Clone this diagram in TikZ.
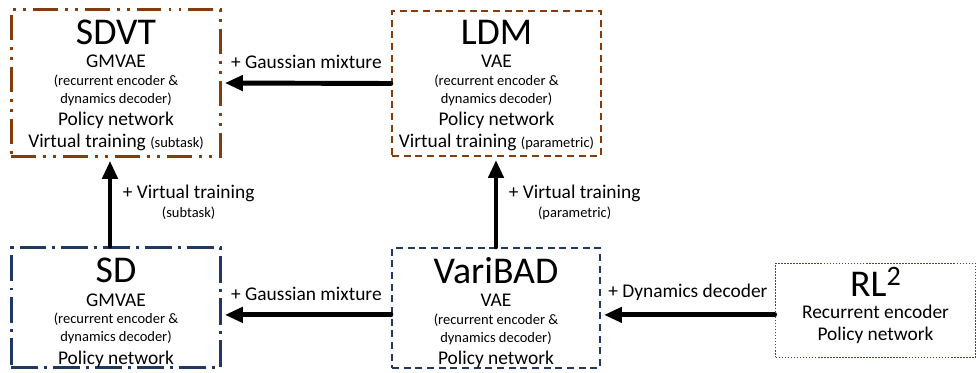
\documentclass[tikz,border=0pt]{standalone}
\usepackage{fontspec}
\setmainfont{Carlito}
\usepackage{xcolor}
\usepackage{tikz}
\usetikzlibrary{arrows.meta}

\definecolor{brownline}{HTML}{843C0C}
\definecolor{blueline}{HTML}{1F3864}
\definecolor{greenline}{HTML}{385723}

\newcommand{\bigname}{\fontsize{26.9}{30}\selectfont}
\newcommand{\smalltext}{\fontsize{10.3}{12}\selectfont}

\begin{document}
\begin{tikzpicture}[
  method/.style={align=center, inner sep=0pt, font=\fontsize{13.8}{14.2}\selectfont},
  dashdotdot/.style={draw=brownline, line width=2.1pt, dash pattern=on 17.7pt off 5pt on 2.1pt off 5pt on 2.1pt off 5pt},
  dashdot/.style={draw=blueline, line width=2.1pt, dash pattern=on 19.1pt off 4.3pt on 2.1pt off 4.3pt},
  shortdash/.style={line width=1.6pt, dash pattern=on 5pt off 3.3pt},
  finedot/.style={draw=greenline, line width=1.2pt, dash pattern=on 1.2pt off 0.95pt},
  link/.style={-{Triangle[length=12.8pt,width=10.6pt]}, line width=3.5pt, line cap=round, shorten >=2pt},
  linklabel/.style={font=\fontsize{13.8}{14.2}\selectfont, align=center}
]
\useasboundingbox (0,0) rectangle (24.475,9.325);

\node[method, dashdotdot, minimum width=5.225cm, minimum height=3.675cm] (sdvt) at (2.9,7.25)
  {\rule{0pt}{20.8pt}{\bigname SDVT}\\[2.5pt] GMVAE\\[-1.8pt] {\smalltext (recurrent encoder \&}\\[-1.4pt]
   {\smalltext dynamics decoder)}\\[1.7pt] Policy network\\[1.7pt] Virtual training {\smalltext (subtask)}};
\node[method, shortdash, draw=brownline, minimum width=5.225cm, minimum height=3.625cm] (ldm) at (12.4125,7.2375)
  {\rule{0pt}{20.1pt}{\bigname LDM}\\[2.5pt] VAE\\[-1.8pt] {\smalltext (recurrent encoder \&}\\[-1.4pt]
   {\smalltext dynamics decoder)}\\[1.7pt] Policy network\\[1.7pt] Virtual training {\smalltext (parametric)}};
\node[method, dashdot, minimum width=5.225cm, minimum height=2.95cm] (sd) at (2.9,1.6375)
  {\rule{0pt}{25.1pt}{\bigname SD}\\[2.5pt] GMVAE\\[-1.8pt] {\smalltext (recurrent encoder \&}\\[-1.4pt]
   {\smalltext dynamics decoder)}\\[1.7pt] Policy network};
\node[method, shortdash, draw=blueline, minimum width=5.2cm, minimum height=3cm] (varibad) at (12.4,1.625)
  {\rule{0pt}{25.1pt}{\bigname VariBAD}\\[2.5pt] VAE\\[-1.8pt] {\smalltext (recurrent encoder \&}\\[-1.4pt]
   {\smalltext dynamics decoder)}\\[1.7pt] Policy network};
\node[method, finedot, minimum width=5cm, minimum height=2.35cm] (rl2) at (21.8875,1.5625)
  {{\bigname RL\raisebox{7.8pt}{\fontsize{20}{20}\selectfont 2}}\\[1.4pt] Recurrent encoder\\[1.4pt]
   Policy network\rule[-9.8pt]{0pt}{0pt}};

\coordinate (low) at ([yshift=-0.11cm]rl2.west);
\draw[link] (ldm.west) -- (sdvt.east) node[midway, above=5pt, linklabel] {+ Gaussian mixture};
\draw[link] (low) -- (low -| varibad.east) node[midway, above=5pt, linklabel] {+ Dynamics decoder};
\draw[link] (low -| varibad.west) -- (low -| sd.east) node[midway, above=5pt, linklabel] {+ Gaussian mixture};
\draw[link] ([xshift=-0.15cm]sd.north) -- ([xshift=-0.15cm]sd.north |- sdvt.south)
  node[midway, right=4pt, linklabel] {+ Virtual training\\[-0.7pt]{\smalltext (subtask)}};
\draw[link] (varibad.north) -- (varibad.north |- ldm.south)
  node[midway, right=4pt, linklabel] {+ Virtual training\\[-0.7pt]{\smalltext (parametric)}};
\end{tikzpicture}
\end{document}
